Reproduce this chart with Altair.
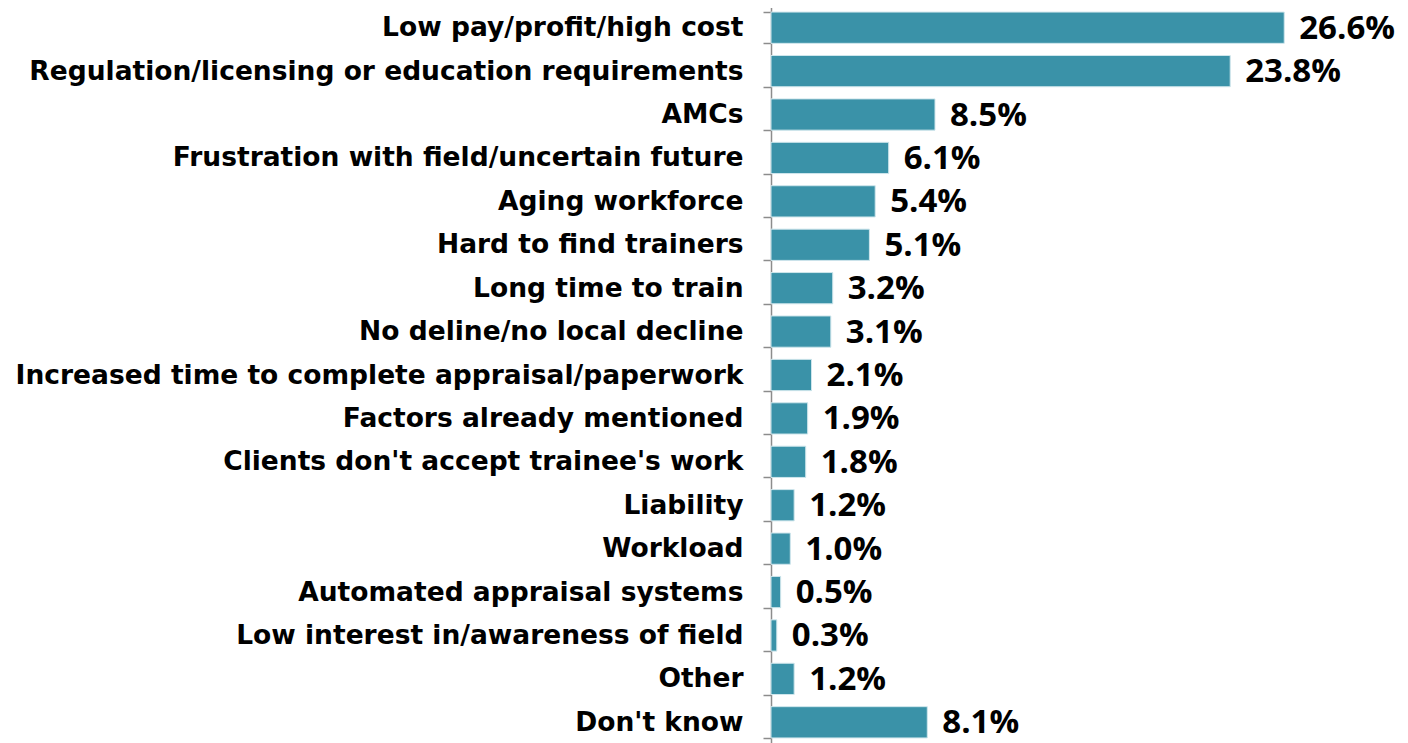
import altair as alt
import pandas as pd

categories = [
    "Low pay/profit/high cost",
    "Regulation/licensing or education requirements",
    "AMCs",
    "Frustration with field/uncertain future",
    "Aging workforce",
    "Hard to find trainers",
    "Long time to train",
    "No deline/no local decline",
    "Increased time to complete appraisal/paperwork",
    "Factors already mentioned",
    "Clients don't accept trainee's work",
    "Liability",
    "Workload",
    "Automated appraisal systems",
    "Low interest in/awareness of field",
    "Other",
    "Don't know",
]
values = [26.6, 23.8, 8.5, 6.1, 5.4, 5.1, 3.2, 3.1, 2.1, 1.9, 1.8, 1.2, 1.0, 0.5, 0.3, 1.2, 8.1]

df = pd.DataFrame({"category": categories, "value": values})

LABEL_FONT = "DejaVu Sans"
VALUE_FONT = "Open Sans"

y = alt.Y(
    "category:N",
    sort=categories,
    title=None,
    scale=alt.Scale(paddingInner=0.28, paddingOuter=0.14),
    axis=alt.Axis(
        labelFont=LABEL_FONT,
        labelFontSize=26.5,
        labelFontWeight="bold",
        labelColor="#000000",
        labelPadding=20,
        labelLimit=900,
        tickSize=8,
        tickColor="#8c8c8c",
        tickWidth=1.5,
        domainColor="#8c8c8c",
        domainWidth=1.5,
        tickBand="extent",
        grid=False,
    ),
)
x = alt.X("value:Q", title=None, scale=alt.Scale(domain=[0, 32.6], nice=False), axis=None)

base = alt.Chart(df).encode(y=y, x=x)

bars = base.mark_bar(color="#3A92A8", stroke="#cfe6ec", strokeWidth=1)

labels = base.transform_calculate(
    label="format(datum.value, '.1f') + '%'"
).mark_text(
    align="left", baseline="middle", dx=15, dy=1,
    font=VALUE_FONT, fontSize=33, fontWeight="bold", color="#000000"
).encode(text="label:N")

chart = (bars + labels).properties(
    width=629,
    height=738,
    padding={"left": 763, "top": -2, "right": 0, "bottom": 0},
    autosize=alt.AutoSizeParams(type="none"),
).configure_view(stroke=None).configure(background="#ffffff")

chart.save("out.html", embed_options={"renderer": "svg", "actions": False})
